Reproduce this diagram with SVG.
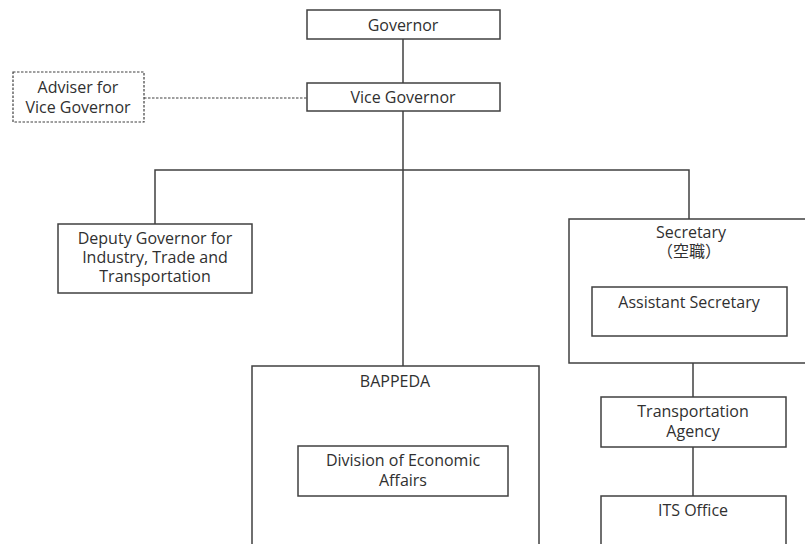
<svg xmlns="http://www.w3.org/2000/svg" width="805" height="544" viewBox="0 0 805 544">
  <style>
    .box { fill: #ffffff; stroke: #404040; stroke-width: 1.5; }
    .dashed { fill: #ffffff; stroke: #404040; stroke-width: 1.2; stroke-dasharray: 2.5 1.5; }
    .line { fill: none; stroke: #404040; stroke-width: 1.5; }
    .dline { fill: none; stroke: #404040; stroke-width: 1.2; stroke-dasharray: 2.5 1.5; }
    text { font-family: "Open Sans", "Noto Sans CJK JP", sans-serif; font-size: 16px; fill: #303030; text-anchor: middle; }
  </style>
  <rect width="805" height="544" fill="#ffffff"/>

  <!-- connectors -->
  <g id="connectors">
    <line class="line" x1="403" y1="39" x2="403" y2="83"/>
    <line class="dline" x1="144" y1="98" x2="307" y2="98"/>
    <line class="line" x1="403" y1="111" x2="403" y2="366"/>
    <polyline class="line" points="155,224 155,170 689,170 689,219"/>
    <line class="line" x1="693" y1="363" x2="693" y2="397"/>
    <line class="line" x1="693" y1="447" x2="693" y2="496"/>
  </g>

  <g id="governor">
    <rect class="box" x="307" y="10" width="193" height="29"/>
    <text x="403" y="31">Governor</text>
  </g>

  <g id="vice-governor">
    <rect class="box" x="307" y="83" width="193" height="28"/>
    <text x="403" y="103">Vice Governor</text>
  </g>

  <g id="adviser">
    <rect class="dashed" x="13" y="72" width="131" height="50"/>
    <text x="78" y="93">Adviser for</text>
    <text x="78" y="113">Vice Governor</text>
  </g>

  <g id="deputy-governor">
    <rect class="box" x="58" y="224" width="194" height="69"/>
    <text x="155" y="244">Deputy Governor for</text>
    <text x="155" y="263">Industry, Trade and</text>
    <text x="155" y="282">Transportation</text>
  </g>

  <g id="secretary">
    <rect class="box" x="569" y="219" width="240" height="144"/>
    <text x="691" y="238">Secretary</text>
    <text x="689" y="257">（空職）</text>
  </g>

  <g id="assistant-secretary">
    <rect class="box" x="592" y="287" width="195" height="49"/>
    <text x="689" y="308">Assistant Secretary</text>
  </g>

  <g id="bappeda">
    <rect class="box" x="252" y="366" width="287" height="190"/>
    <text x="395" y="387">BAPPEDA</text>
  </g>

  <g id="division-economic-affairs">
    <rect class="box" x="298" y="446" width="210" height="50"/>
    <text x="403" y="466">Division of Economic</text>
    <text x="403" y="486">Affairs</text>
  </g>

  <g id="transportation-agency">
    <rect class="box" x="601" y="397" width="185" height="50"/>
    <text x="693" y="417">Transportation</text>
    <text x="693" y="437">Agency</text>
  </g>

  <g id="its-office">
    <rect class="box" x="601" y="496" width="185" height="60"/>
    <text x="693" y="516">ITS Office</text>
  </g>
</svg>
